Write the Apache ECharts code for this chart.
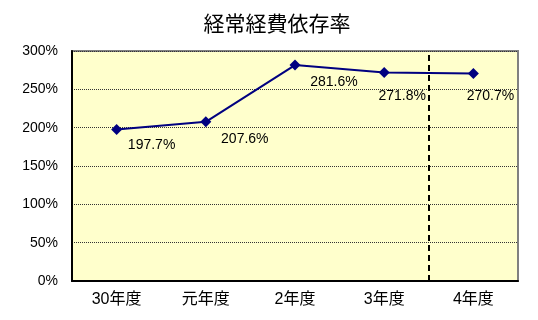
<!DOCTYPE html>
<html><head><meta charset="utf-8">
<script src="https://cdn.jsdelivr.net/npm/echarts@6/dist/echarts.min.js"></script>
<style>html,body{margin:0;padding:0;background:#fff}#c{width:538px;height:320px}</style>
</head><body><div id="c"></div>
<script>
const title = '経常経費依存率';
const categories = ['30年度', '元年度', '2年度', '3年度', '4年度'];
const values = [197.7, 207.6, 281.6, 271.8, 270.7];
const yTicks = [0, 50, 100, 150, 200, 250, 300];
// label placement (style only)
const labelOffsets = [[35, 16], [39, 17], [39, 17], [18, 24], [17, 23]];
const dividerIndex = 4;

const cjk = '"Noto Sans CJK JP", sans-serif';
const num = '"Liberation Sans", "Noto Sans CJK JP", sans-serif';
const chart = echarts.init(document.getElementById('c'));
chart.setOption({
  animation: false,
  title: { text: title, left: 272, top: 8, textAlign: 'center',
    textStyle: { fontFamily: cjk, fontSize: 21, fontWeight: 'normal', color: '#000' } },
  grid: { left: 72, right: 20, top: 51, bottom: 39, show: true,
    backgroundColor: '#FFFFCC', borderColor: '#808080', borderWidth: 2 },
  xAxis: [{
    type: 'category', data: categories, boundaryGap: true,
    axisLine: { lineStyle: { color: '#000', width: 2 } },
    axisTick: { inside: true, length: 4, lineStyle: { color: '#000', width: 1 } },
    axisLabel: { fontFamily: num, fontSize: 16, color: '#000', margin: 11 },
    splitLine: { show: false },
    z: 5
  }, {
    type: 'value', min: 0, max: categories.length, show: false,
    position: 'bottom'
  }],
  yAxis: {
    type: 'value', min: yTicks[0], max: yTicks[yTicks.length - 1], interval: 50,
    axisLine: { show: true, lineStyle: { color: '#000', width: 2 } },
    axisTick: { show: false },
    axisLabel: { fontFamily: num, fontSize: 14, color: '#000', margin: 14,
      formatter: v => v + '%' },
    splitLine: { show: true, lineStyle: { color: '#333', width: 1, type: 'dotted' } }
  },
  series: [{
    type: 'line',
    data: values.map((v, i) => ({ value: v,
      label: { offset: labelOffsets[i] } })),
    lineStyle: { color: '#000080', width: 2 },
    itemStyle: { color: '#000080' },
    symbol: 'diamond', symbolSize: 11,
    z: 10,
    label: { show: true, position: 'inside', fontFamily: num, fontSize: 14, color: '#000',
      formatter: p => p.value.toFixed(1) + '%' }
  }, {
    type: 'line', xAxisIndex: 1, data: [], z: 6,
    markLine: {
      silent: true, symbol: 'none', label: { show: false },
      lineStyle: { color: '#000', width: 2, type: [6, 4] },
      data: [{ xAxis: dividerIndex }]
    }
  }]
});
</script></body></html>
